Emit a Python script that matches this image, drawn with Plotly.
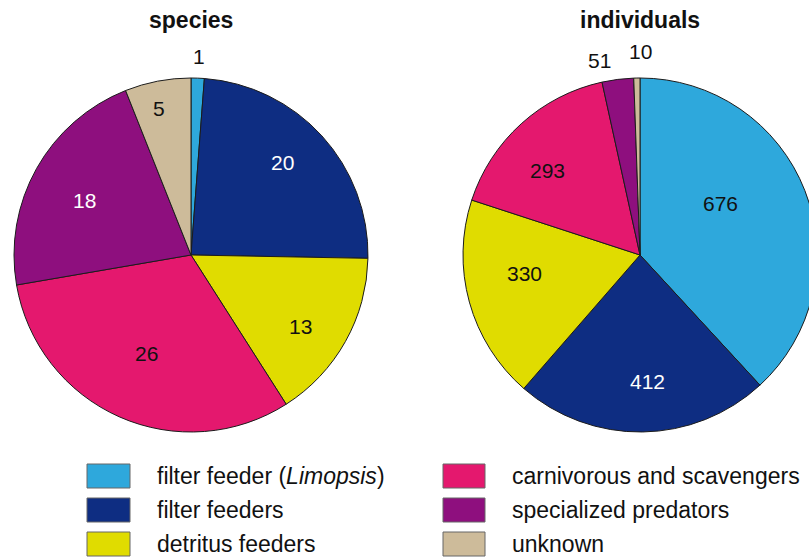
import math
import plotly.graph_objects as go

# ---------------- data ----------------
categories = [
    "filter feeder (Limopsis)",
    "filter feeders",
    "detritus feeders",
    "carnivorous and scavengers",
    "specialized predators",
    "unknown",
]
legend_labels = [
    "filter feeder (<i>Limopsis</i>)",
    "filter feeders",
    "detritus feeders",
    "carnivorous and scavengers",
    "specialized predators",
    "unknown",
]
species_counts = [1, 20, 13, 26, 18, 5]
individual_counts = [676, 412, 330, 293, 51, 10]
panel_titles = ["species", "individuals"]

# ---------------- styles / layout ----------------
colors = ["#2EA8DC", "#0E2D82", "#E0DC00", "#E4186E", "#8E0F7E", "#CDBB9A"]
dark_fill = [False, True, False, False, True, False]

# label placement (angle clockwise from 12 o'clock in degrees, radius fraction)
species_label_pos = [(2.3, 1.125), (44.4, 0.735), (123.4, 0.738),
                     (204.0, 0.612), (297.4, 0.675), (347.7, 0.85)]
individual_label_pos = [(57.0, 0.539), (176.8, 0.713), (260.7, 0.664),
                        (312.4, 0.704), (348.3, 1.12), (0.0, 1.15)]

FIG_W, FIG_H = 830, 558
FONT = "Liberation Sans, Arial, Helvetica, sans-serif"
pie_centers = [(191, 255), (640, 255)]
pie_radius = 177


def px(x):
    return x / FIG_W


def py(y):
    return 1 - y / FIG_H


fig = go.Figure()
annotations = []
shapes = []

for values, (cx, cy), title, label_pos in zip(
    [species_counts, individual_counts], pie_centers, panel_titles,
    [species_label_pos, individual_label_pos]
):
    fig.add_trace(go.Pie(
        labels=categories,
        values=values,
        sort=False,
        direction="clockwise",
        rotation=0,
        textinfo="none",
        marker=dict(colors=colors, line=dict(color="#1c1c1c", width=1)),
        domain=dict(x=[px(cx - pie_radius), px(cx + pie_radius)],
                    y=[py(cy + pie_radius), py(cy - pie_radius)]),
        showlegend=False,
        hovertemplate="%{label}: %{value}<extra></extra>",
    ))
    annotations.append(dict(
        text="<b>%s</b>" % title, x=px(cx), y=py(20), xref="paper", yref="paper",
        xanchor="center", yanchor="middle", showarrow=False,
        font=dict(family=FONT, size=23, color="#111111"),
    ))
    for v, (ang, rf), dark in zip(values, label_pos, dark_fill):
        a = math.radians(ang)
        lx = cx + rf * pie_radius * math.sin(a)
        ly = cy - rf * pie_radius * math.cos(a)
        col = "#ffffff" if (dark and rf < 1) else "#111111"
        annotations.append(dict(
            text=str(v), x=px(lx), y=py(ly), xref="paper", yref="paper",
            xanchor="center", yanchor="middle", showarrow=False,
            font=dict(family=FONT, size=21, color=col),
        ))

# ---------------- legend (two columns) ----------------
legend_cols = [(87, 130, 155), (443, 485, 510)]
legend_rows = [476, 510, 544]
sq_h = 24
for i, (lab, colr) in enumerate(zip(legend_labels, colors)):
    x0, x1, tx = legend_cols[i // 3]
    yc = legend_rows[i % 3]
    shapes.append(dict(
        type="rect", xref="paper", yref="paper",
        x0=px(x0), x1=px(x1), y0=py(yc + sq_h / 2), y1=py(yc - sq_h / 2),
        fillcolor=colr, line=dict(color="#666666", width=1),
    ))
    annotations.append(dict(
        text=lab, x=px(tx), y=py(yc), xref="paper", yref="paper",
        xanchor="left", yanchor="middle", showarrow=False,
        font=dict(family=FONT, size=23, color="#111111"),
    ))

fig.update_layout(
    width=FIG_W, height=FIG_H,
    margin=dict(l=0, r=0, t=0, b=0),
    paper_bgcolor="white", plot_bgcolor="white",
    annotations=annotations, shapes=shapes,
    font=dict(family=FONT),
)

fig.write_html(
    "out.html",
    config={"displayModeBar": False},
    post_script="document.body.style.margin='0';"
                "document.body.style.overflow='hidden';"
                "document.documentElement.style.overflow='hidden';",
)
